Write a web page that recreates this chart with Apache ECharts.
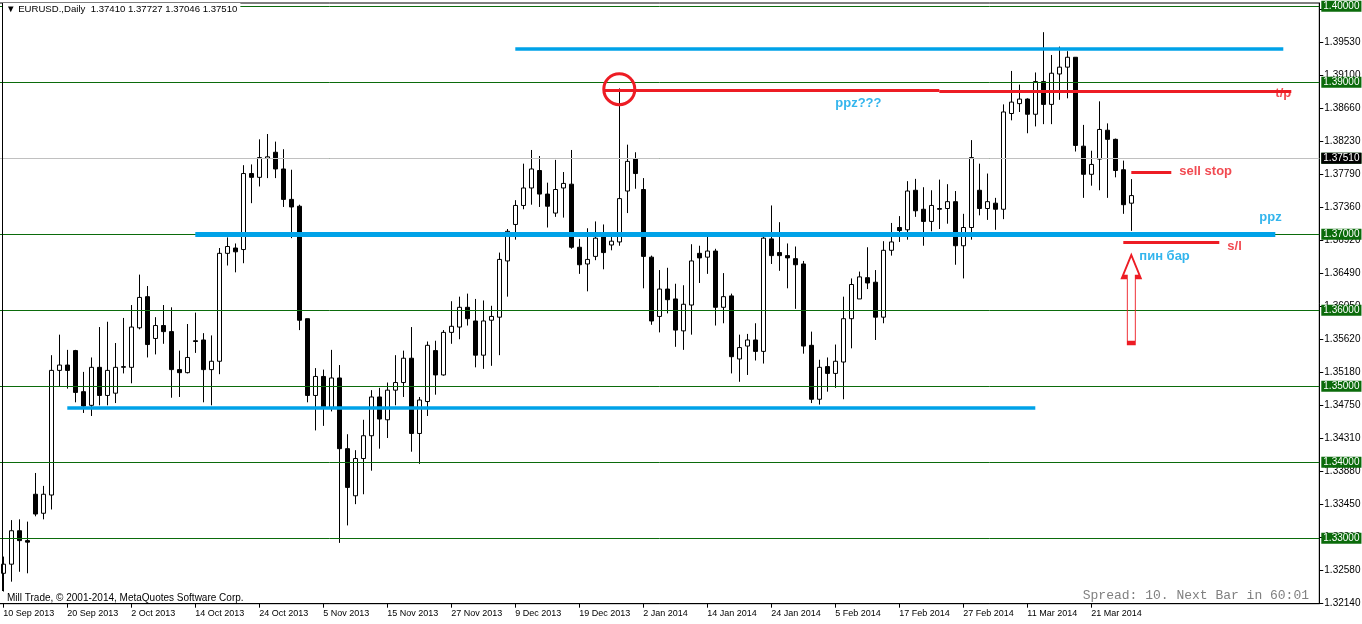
<!DOCTYPE html>
<html><head><meta charset="utf-8">
<script src="https://cdn.jsdelivr.net/npm/echarts@6/dist/echarts.min.js"></script>
<style>html,body{margin:0;padding:0;background:#fff}#c{width:1362px;height:624px}</style>
</head><body><div id="c"></div>
<script>
// ---------- data ----------
const symbolName = 'EURUSD.';
const timeframe = 'Daily';
const tradingDays = [
  ['Sep 2013', [10,11,12,13,16,17,18,19,20,23,24,25,26,27,30]],
  ['Oct 2013', [1,2,3,4,7,8,9,10,11,14,15,16,17,18,21,22,23,24,25,28,29,30,31]],
  ['Nov 2013', [1,4,5,6,7,8,11,12,13,14,15,18,19,20,21,22,25,26,27,28,29]],
  ['Dec 2013', [2,3,4,5,6,9,10,11,12,13,16,17,18,19,20,23,24,26,27,30,31]],
  ['Jan 2014', [2,3,6,7,8,9,10,13,14,15,16,17,20,21,22,23,24,27,28,29,30,31]],
  ['Feb 2014', [3,4,5,6,7,10,11,12,13,14,17,18,19,20,21,24,25,26,27,28]],
  ['Mar 2014', [3,4,5,6,7,10,11,12,13,14,17,18,19,20,21,24,25,26,27,28,31]],
  ['Apr 2014', [1,2,3,4,7,8,9,10,11,14,15,16,17,18,21,22,23,24,25,28,29,30]]
];
const categories = [];
tradingDays.forEach(([m, days]) => days.forEach(d => categories.push(d + ' ' + m)));

const opens = [
1.3254,1.3266,1.3310,1.3297,1.3358,1.3333,1.3357,1.3521,1.3528,1.3547,
1.3493,1.3475,1.3525,1.3488,1.3491,1.3525,1.3525,1.3577,1.3618,1.3563,
1.3580,1.3572,1.3522,1.3518,1.3560,1.3561,1.3522,1.3533,1.3675,1.3682,
1.3680,1.3780,1.3775,1.3800,1.3808,1.3786,1.3746,1.3737,1.3589,1.3488,
1.3513,1.3472,1.3511,1.3418,1.3356,1.3405,1.3435,1.3486,1.3456,1.3495,
1.3505,1.3537,1.3438,1.3480,1.3547,1.3515,1.3571,1.3578,1.3604,1.3586,
1.3541,1.3587,1.3591,1.3665,1.3713,1.3738,1.3761,1.3784,1.3753,1.3728,
1.3761,1.3766,1.3683,1.3661,1.3671,1.3697,1.3686,1.3690,1.3757,1.3799,
1.3759,1.3670,1.3592,1.3628,1.3615,1.3573,1.3607,1.3675,1.3670,1.3678,
1.3604,1.3619,1.3536,1.3553,1.3561,1.3546,1.3694,1.3676,1.3672,1.3668,
1.3661,1.3554,1.3483,1.3526,1.3517,1.3532,1.3589,1.3615,1.3643,1.3637,
1.3591,1.3679,1.3709,1.3706,1.3758,1.3733,1.3717,1.3734,1.3734,1.3743,
1.3685,1.3709,1.3758,1.3734,1.3741,1.3733,1.3859,1.3872,1.3878,1.3858,
1.3901,1.3871,1.3911,1.3920,1.3933,1.3816,1.3779,1.3799,1.3837,1.3825,
1.3785,1.37410];
const closes = [
1.3266,1.3310,1.3297,1.3295,1.3332,1.3358,1.3521,1.3528,1.3521,1.3492,
1.3474,1.3525,1.3488,1.3521,1.3525,1.3526,1.3578,1.3617,1.3555,1.3580,
1.3572,1.3522,1.3518,1.3538,1.3559,1.3522,1.3533,1.3675,1.3684,1.3677,
1.3780,1.3775,1.3801,1.3802,1.3786,1.3746,1.3736,1.3587,1.3488,1.3513,
1.3472,1.3511,1.3418,1.3367,1.3405,1.3435,1.3486,1.3457,1.3495,1.3505,
1.3537,1.3438,1.3482,1.3554,1.3515,1.3571,1.3579,1.3604,1.3589,1.3541,
1.3586,1.3592,1.3667,1.3704,1.3738,1.3761,1.3786,1.3753,1.3737,1.3759,
1.3767,1.3683,1.3660,1.3667,1.3695,1.3676,1.3691,1.3747,1.3796,1.3780,
1.3671,1.3586,1.3628,1.3614,1.3574,1.3608,1.3665,1.3669,1.3678,1.3604,
1.3618,1.3539,1.3551,1.3561,1.3546,1.3695,1.3672,1.3672,1.3669,1.3660,
1.3553,1.3483,1.3525,1.3517,1.3533,1.3589,1.3634,1.3644,1.3636,1.3591,
1.3679,1.3690,1.3705,1.3757,1.3731,1.3717,1.3738,1.3733,1.3743,1.3685,
1.3709,1.3801,1.3734,1.3743,1.3733,1.3861,1.3874,1.3878,1.3858,1.3901,
1.3871,1.3912,1.3920,1.3933,1.3817,1.3779,1.3792,1.3838,1.3825,1.3784,
1.3739,1.37510];
const lows = [
1.3230,1.3243,1.3256,1.3254,1.3329,1.3325,1.3338,1.3500,1.3497,1.3479,
1.3465,1.3461,1.3475,1.3475,1.3478,1.3517,1.3504,1.3575,1.3538,1.3542,
1.3556,1.3485,1.3486,1.3517,1.3544,1.3479,1.3475,1.3516,1.3659,1.3650,
1.3662,1.3741,1.3763,1.3774,1.3774,1.3736,1.3695,1.3574,1.3479,1.3442,
1.3448,1.3467,1.3294,1.3317,1.3345,1.3358,1.3389,1.3418,1.3432,1.3475,
1.3486,1.3414,1.3398,1.3461,1.3489,1.3514,1.3556,1.3562,1.3580,1.3525,
1.3523,1.3527,1.3541,1.3618,1.3693,1.3733,1.3739,1.3736,1.3709,1.3723,
1.3722,1.3681,1.3648,1.3625,1.3666,1.3654,1.3679,1.3685,1.3728,1.3760,
1.3629,1.3581,1.3571,1.3596,1.3552,1.3548,1.3568,1.3636,1.3648,1.3580,
1.3583,1.3517,1.3506,1.3515,1.3534,1.3530,1.3661,1.3652,1.3629,1.3602,
1.3543,1.3478,1.3476,1.3493,1.3498,1.3483,1.3550,1.3615,1.3628,1.3561,
1.3583,1.3672,1.3690,1.3693,1.3723,1.3685,1.3704,1.3707,1.3714,1.3660,
1.3642,1.3693,1.3725,1.3719,1.3706,1.3720,1.3850,1.3861,1.3833,1.3842,
1.3845,1.3845,1.3877,1.3879,1.3809,1.3748,1.3764,1.3758,1.3748,1.3775,
1.3727,1.37046];
const highs = [
1.3276,1.3324,1.3325,1.3322,1.3386,1.3369,1.3541,1.3568,1.3548,1.3548,
1.3519,1.3538,1.3578,1.3585,1.3557,1.3590,1.3607,1.3647,1.3632,1.3591,
1.3607,1.3604,1.3547,1.3582,1.3597,1.3570,1.3567,1.3682,1.3696,1.3688,
1.3791,1.3792,1.3825,1.3832,1.3822,1.3812,1.3785,1.3739,1.3589,1.3524,
1.3522,1.3548,1.3528,1.3437,1.3416,1.3456,1.3495,1.3498,1.3505,1.3541,
1.3547,1.3578,1.3486,1.3559,1.3560,1.3574,1.3612,1.3618,1.3622,1.3615,
1.3613,1.3606,1.3676,1.3707,1.3745,1.3793,1.3811,1.3803,1.3768,1.3798,
1.3782,1.3811,1.3694,1.3708,1.3717,1.3713,1.3698,1.3892,1.3818,1.3808,
1.3774,1.3672,1.3653,1.3656,1.3635,1.3633,1.3687,1.3685,1.3697,1.3681,
1.3649,1.3622,1.3568,1.3569,1.3583,1.3697,1.3738,1.3716,1.3688,1.3684,
1.3665,1.3572,1.3535,1.3538,1.3555,1.3618,1.3642,1.3651,1.3683,1.3653,
1.3691,1.3715,1.3724,1.3770,1.3773,1.3762,1.3758,1.3772,1.3766,1.3757,
1.3727,1.3824,1.3793,1.3780,1.3748,1.3871,1.3915,1.3897,1.3879,1.3913,
1.3966,1.3936,1.3947,1.3941,1.3933,1.3844,1.3810,1.3875,1.3846,1.3826,
1.3797,1.37727];

const yTickLabels = ['1.32140','1.32580','1.33010','1.33450','1.33880','1.34310','1.34750','1.35180','1.35620',
  '1.36050','1.36490','1.36920','1.37360','1.37790','1.38230','1.38660','1.39100','1.39530'];
const yMin = 1.3214, yMax = 1.40044, yStep = 0.0043471;
const levelPrices = [1.33, 1.34, 1.35, 1.36, 1.37, 1.38, 1.39, 1.40];

// hand-drawn analysis lines: [from date, to date, price]
const blueLines = [['9 Dec 2013','24 Apr 2014',1.3944],['14 Oct 2013','23 Apr 2014',1.3700],['20 Sep 2013','12 Mar 2014',1.3472]];
const redLines = [['24 Dec 2013','24 Feb 2014',1.3890],['24 Feb 2014','25 Apr 2014',1.3888],['28 Mar 2014','4 Apr 2014',1.3782],['27 Mar 2014','14 Apr 2014',1.3690]];
const circleMark = ['27 Dec 2013', 1.3891];
const arrowMark = ['28 Mar 2014', 1.3615];
const blueNotes = [['5 Feb 2014',1.38728,'ppz???'],['21 Apr 2014',1.37228,'ppz'],['31 Mar 2014',1.36714,'пин бар']];
const redNotes = [['23 Apr 2014',1.38860,'t/p'],['7 Apr 2014',1.37834,'sell stop'],['15 Apr 2014',1.36846,'s/l']];

// ---------- chart ----------
const candles = opens.map((o, i) => [o, closes[i], lows[i], highs[i]]);
const last = candles.length - 1;
const BLUE = '#00A2E8', RED = '#ED1C24', GREEN = '#0B6B0B';
const blueW = [3.5, 5, 3.5];
const FONT = 'Liberation Sans, Arial, sans-serif';

const chart = echarts.init(document.getElementById('c'), null, {renderer: 'canvas'});
const seg = (a, color, width) => [{coord: [a[0], a[2]], lineStyle: {color, width, type: 'solid'}}, {coord: [a[1], a[2]]}];
const boxLabel = (txt, bg) => ({show: true, position: 'end', distance: 2, formatter: txt, color: '#fff', backgroundColor: bg,
  padding: [1, 2, 0, 2], fontSize: 10, fontFamily: FONT});

chart.setOption({
  animation: false,
  backgroundColor: '#fff',
  graphic: [{type: 'line', shape: {x1: 2.5, y1: 3, x2: 2.5, y2: 591}, style: {stroke: '#000', lineWidth: 1}, z: 100, silent: true}],
  title: [
    {text: '▼ ' + symbolName + ',' + timeframe + '  ' + [opens[last], highs[last], lows[last], closes[last]].map(v => v.toFixed(5)).join(' '),
     left: 3, top: 3, padding: [1, 3], backgroundColor: '#fff',
     textStyle: {fontSize: 9.6, fontWeight: 'normal', color: '#000', fontFamily: FONT}},
    {text: 'Mill Trade, © 2001-2014, MetaQuotes Software Corp.', left: 5, top: 592, padding: [1, 2],
     textStyle: {fontSize: 10, fontWeight: 'normal', color: '#000', fontFamily: FONT}},
    {text: 'Spread: 10. Next Bar in 60:01', right: 53, top: 589, padding: 0,
     textStyle: {fontSize: 13, fontWeight: 'normal', color: '#808080', fontFamily: 'Liberation Mono, monospace'}}
  ],
  grid: {left: -0.7, right: 42.7, top: 3, bottom: 20.3, show: true, borderColor: '#000', borderWidth: 1, backgroundColor: '#fff',
         containLabel: false, outerBoundsMode: 'none'},
  xAxis: {
    type: 'category', data: categories, boundaryGap: true,
    axisLine: {lineStyle: {color: '#000'}},
    axisTick: {show: true, alignWithLabel: true, length: 4, lineStyle: {color: '#000'}, interval: (i) => i % 8 === 0 && i <= last},
    axisLabel: {interval: (i) => i % 8 === 0 && i <= last, align: 'left', fontSize: 9, margin: 5, color: '#000', fontFamily: FONT},
    splitLine: {show: false}
  },
  yAxis: {
    type: 'value', position: 'right', min: yMin, max: yMax, interval: yStep,
    axisLine: {show: true, lineStyle: {color: '#000'}},
    axisTick: {show: true, length: 4, lineStyle: {color: '#000'}},
    axisLabel: {fontSize: 10, color: '#000', margin: 5, fontFamily: FONT, showMaxLabel: false,
      formatter: (v, i) => yTickLabels[i] || ''},
    splitLine: {show: false}
  },
  series: [
    {
      type: 'candlestick', data: candles, barWidth: 5, z: 3,
      itemStyle: {color: '#fff', color0: '#000', borderColor: '#000', borderColor0: '#000', borderWidth: 1},
      markLine: {
        silent: true, symbol: 'none', animation: false, z: 4,
        label: {show: false},
        data: [
          ...levelPrices.map(p => ({yAxis: p, lineStyle: {color: GREEN, width: 1, type: 'solid'}, label: boxLabel(p.toFixed(5), GREEN)})),
          {yAxis: closes[last], lineStyle: {color: '#C0C0C0', width: 1, type: 'solid'}, label: boxLabel(closes[last].toFixed(5), '#000')},
          ...blueLines.map((a, i) => seg(a, BLUE, blueW[i])),
          ...redLines.map(a => seg(a, RED, 3))
        ]
      },
      markPoint: {
        silent: true, animation: false, label: {show: false},
        data: [
          {coord: circleMark, symbol: 'circle', symbolSize: 31, itemStyle: {color: 'rgba(0,0,0,0)', borderColor: RED, borderWidth: 3}},
          {coord: arrowMark, symbol: 'path://M9 0 L18 22 L13 22 L13 88 L5 88 L5 22 L0 22 Z', symbolSize: [18, 88],
            itemStyle: {color: 'rgba(0,0,0,0)', borderColor: RED, borderWidth: 2}}
        ]
      }
    },
    {
      type: 'scatter', symbolSize: 0, silent: true, z: 5,
      data: blueNotes.map(n => ({value: [n[0], n[1]], name: n[2]})),
      label: {show: true, position: 'right', distance: 0, formatter: p => p.name, color: BLUE, fontWeight: 'bold', fontSize: 13, fontFamily: FONT}
    },
    {
      type: 'scatter', symbolSize: 0, silent: true, z: 5,
      data: redNotes.map(n => ({value: [n[0], n[1]], name: n[2]})),
      label: {show: true, position: 'right', distance: 0, formatter: p => p.name, color: RED, fontWeight: 'bold', fontSize: 13, fontFamily: FONT}
    }
  ]
});
</script></body></html>
